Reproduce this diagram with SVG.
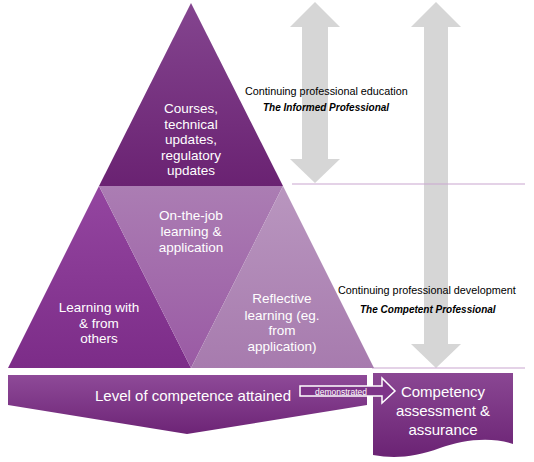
<svg xmlns="http://www.w3.org/2000/svg" width="534" height="462" viewBox="0 0 534 462">
<defs>
<linearGradient id="gTop" x1="0" y1="0" x2="0" y2="1"><stop offset="0" stop-color="#84458f"/><stop offset="1" stop-color="#6a2272"/></linearGradient>
<linearGradient id="gLeft" x1="0" y1="0" x2="0" y2="1"><stop offset="0" stop-color="#9446a0"/><stop offset="1" stop-color="#7c2c88"/></linearGradient>
<linearGradient id="gMid" x1="0" y1="0" x2="0" y2="1"><stop offset="0" stop-color="#ab7db3"/><stop offset="1" stop-color="#9a5aa4"/></linearGradient>
<linearGradient id="gRight" x1="0" y1="0" x2="0" y2="1"><stop offset="0" stop-color="#b996bf"/><stop offset="1" stop-color="#a77bae"/></linearGradient>
<linearGradient id="gBar" x1="0" y1="0" x2="0" y2="1"><stop offset="0" stop-color="#8e4a98"/><stop offset="1" stop-color="#6d2476"/></linearGradient>
<linearGradient id="gBox" x1="0" y1="0" x2="0" y2="1"><stop offset="0" stop-color="#8a4793"/><stop offset="1" stop-color="#6b2374"/></linearGradient>
</defs>
<style>
.w{fill:#ffffff;font-family:"Liberation Sans",Arial,sans-serif;text-anchor:middle}
.t{font-size:13.5px}
.k{fill:#000000;font-family:"Liberation Sans",Arial,sans-serif;font-size:10.8px}
.ki{font-weight:bold;font-style:italic;font-size:10px}
.gray{fill:#d6d6d6}
.ln{stroke:#c9a6cf;stroke-width:1.2}
</style>
<g id="gray-arrows">
<polygon class="gray" points="315,2 340,27 328,27 328,159 340,159 315,183 290,159 302,159 302,27 290,27"/>
<polygon class="gray" points="436,2 461,27 448,27 448,344 461,344 436,368 411,344 424,344 424,27 411,27"/>
</g>
<g id="lines">
<line class="ln" x1="292" y1="184" x2="525" y2="184"/>
<line class="ln" x1="372" y1="368" x2="525" y2="368"/>
</g>
<g id="top">
<polygon points="191,3 283,186 99,186" fill="url(#gTop)"/>
<text class="w t" x="191" y="113">Courses,</text>
<text class="w t" x="191" y="128.5">technical</text>
<text class="w t" x="191" y="144">updates,</text>
<text class="w t" x="191" y="159.5">regulatory</text>
<text class="w t" x="191" y="175">updates</text>
</g>
<g id="left">
<polygon points="99,186 191,368 8,368" fill="url(#gLeft)"/>
<text class="w t" x="99" y="312">Learning with</text>
<text class="w t" x="99" y="327.5">&amp; from</text>
<text class="w t" x="99" y="343">others</text>
</g>
<g id="middle">
<polygon points="99,186 283,186 191,368" fill="url(#gMid)"/>
<text class="w t" x="191" y="220">On-the-job</text>
<text class="w t" x="191" y="236">learning &amp;</text>
<text class="w t" x="191" y="252">application</text>
</g>
<g id="right">
<polygon points="283,186 374,368 191,368" fill="url(#gRight)"/>
<text class="w t" x="282" y="303">Reflective</text>
<text class="w t" x="282" y="319.5">learning (eg.</text>
<text class="w t" x="282" y="335">from</text>
<text class="w t" x="282" y="351">application)</text>
</g>
<g id="level">
<polygon points="8,375 367,375 367,405 187,434 8,405" fill="url(#gBar)"/>
<text class="w" x="193" y="401" font-size="15">Level of competence attained</text>
</g>
<g id="competency">
<path d="M373,373 L513,373 L513,444 C490,436 462,440 440,448 C415,457 395,459 373,455 Z" fill="url(#gBox)"/>
<text class="w" x="443" y="397" font-size="15">Competency</text>
<text class="w" x="443" y="416" font-size="15">assessment &amp;</text>
<text class="w" x="443" y="435" font-size="15">assurance</text>
</g>
<g id="connectors">
<polygon points="300,386 382,386 382,378 395,391 382,403 382,396 300,396" fill="#7e3489" stroke="#ffffff" stroke-width="1.5"/>
<text class="w" x="341" y="394.5" font-size="8.5">demonstrated</text>
</g>
<g id="labels">
<text class="k" x="245" y="95">Continuing professional education</text>
<text class="k ki" x="263" y="111">The Informed Professional</text>
<text class="k" x="338" y="294">Continuing professional development</text>
<text class="k ki" x="360" y="313">The Competent Professional</text>
</g>
</svg>
